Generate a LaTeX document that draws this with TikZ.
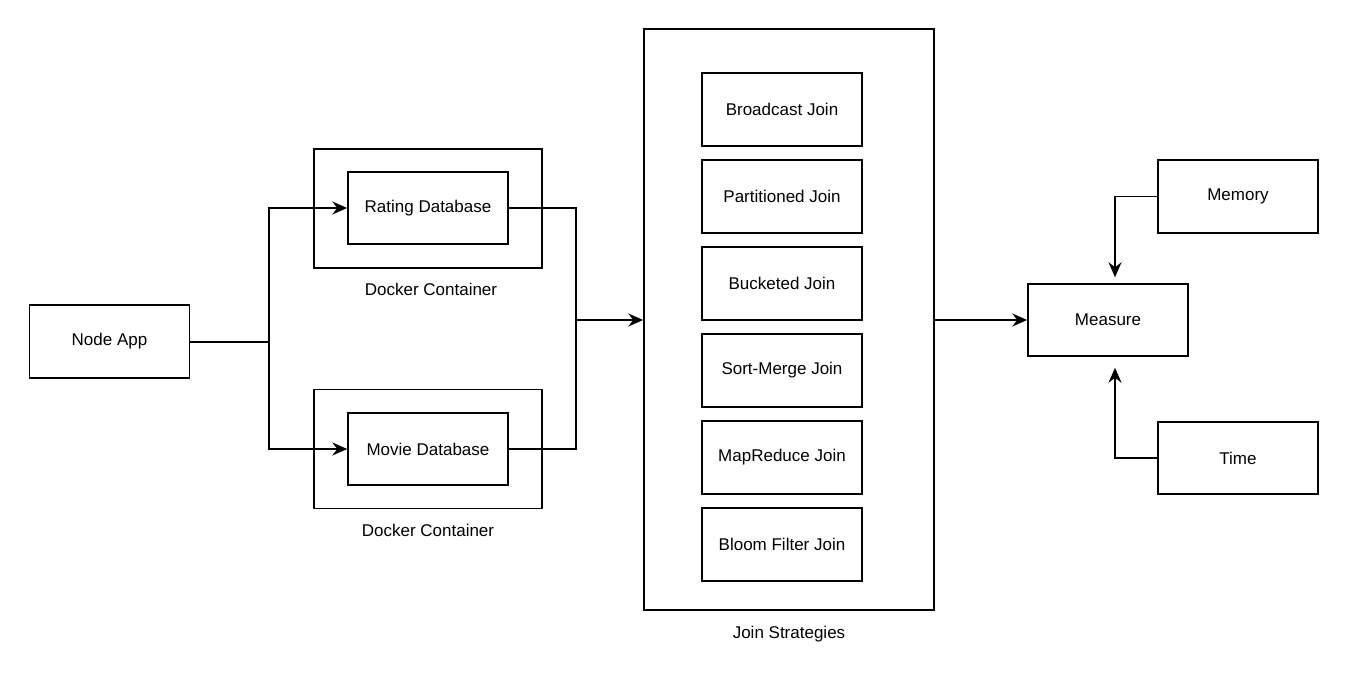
\documentclass[tikz,border=0pt]{standalone}
\usepackage{fontspec}
\setmainfont{Liberation Sans}
\usetikzlibrary{arrows.meta}
\begin{document}
\begin{tikzpicture}[x=1pt,y=-1pt,
  every node/.style={font=\fontsize{17}{20}\selectfont},
  box/.style={draw, line width=1.5pt, rectangle, inner sep=0pt},
  plain/.style={inner sep=0pt},
  wire/.style={line width=1.5pt},
  arr/.style={wire, -{Stealth[length=15pt,width=13pt,inset=5pt]}}]
\useasboundingbox (0,0) rectangle (1349,684);

% source application
\node[box, minimum width=160pt, minimum height=73pt] (app) at (109.5,341.5) {Node App};

% docker containers with databases
\node[box, minimum width=228pt, minimum height=119pt] (dock1) at (428,208.5) {};
\node[box, minimum width=160pt, minimum height=72pt] (rating) at (428,208) {Rating Database};
\node[plain] (dock1lbl) at (431,289) {Docker Container};

\node[box, minimum width=228pt, minimum height=119pt] (dock2) at (428,449) {};
\node[box, minimum width=160pt, minimum height=72pt] (movie) at (428,449) {Movie Database};
\node[plain] (dock2lbl) at (428,530) {Docker Container};

% join strategies
\node[box, minimum width=290pt, minimum height=581pt] (join) at (789,319.5) {};
\node[plain] (joinlbl) at (789,634) {Join Strategies};
\foreach \name/\txt/\yy in {bc/Broadcast Join/109.5, pj/Partitioned Join/196.5,
    bj/Bucketed Join/283.5, sm/Sort-Merge Join/370.5,
    mr/MapReduce Join/457.5, bf/Bloom Filter Join/544.5}
  \node[box, minimum width=160pt, minimum height=73pt] (\name) at (782,\yy) {\txt};

% measurement
\node[box, minimum width=160pt, minimum height=72pt] (measure) at (1108,320) {Measure};
\node[box, minimum width=160pt, minimum height=73pt] (memory) at (1238,196.5) {Memory};
\node[box, minimum width=160pt, minimum height=72pt] (time) at (1238,458) {Time};

% connectors
\coordinate (split) at (269,342);
\coordinate (merge) at (576,320);
\draw[wire] (app.east |- split) -- (split);
\draw[arr] (split) |- (rating.west);
\draw[arr] (split) |- (movie.west);
\draw[wire] (rating.east) -| (merge);
\draw[wire] (movie.east) -| (merge);
\draw[arr] (merge) -- (merge -| join.west);
\draw[arr] (join.east |- measure.west) -- (measure.west);
\draw[arr, shorten >=6pt] (memory.west) -| ([xshift=7pt]measure.north);
\draw[arr, shorten >=11pt] (time.west) -| ([xshift=7pt]measure.south);
\end{tikzpicture}
\end{document}
